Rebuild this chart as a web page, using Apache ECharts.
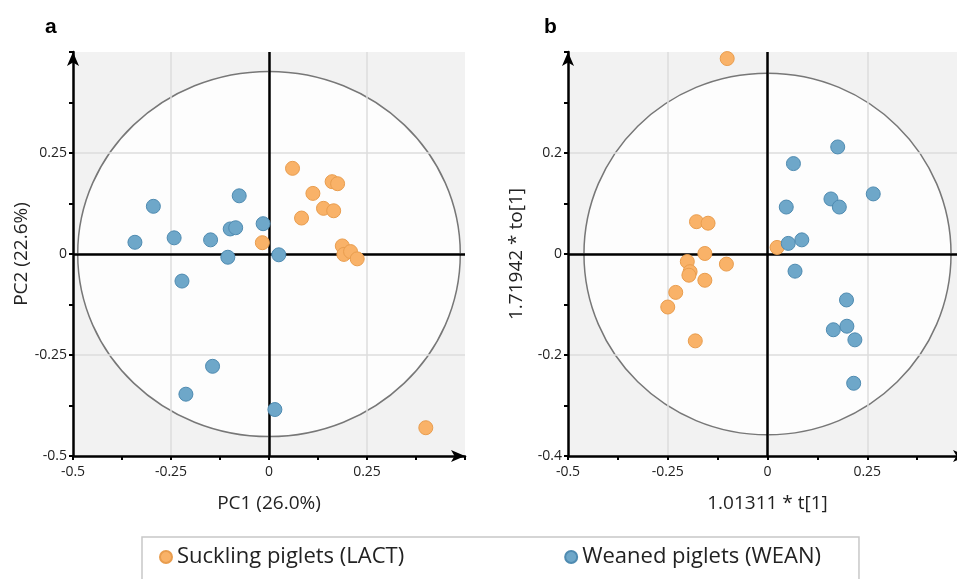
<!DOCTYPE html>
<html>
<head>
<meta charset="utf-8">
<script src="https://cdn.jsdelivr.net/npm/echarts@6/dist/echarts.min.js"></script>
<style>
  html, body { margin: 0; padding: 0; background: #fff; }
  #chart { width: 957px; height: 579px; }
</style>
</head>
<body>
<div id="chart"></div>
<script>
// panel a: PCA scores [PC1, PC2]
var lactA = [
  [0.060, 0.212], [0.112, 0.150], [0.161, 0.179], [0.175, 0.174],
  [0.139, 0.113], [0.165, 0.107], [0.083, 0.089], [-0.017, 0.028],
  [0.187, 0.020], [0.191, -0.001], [0.208, 0.006], [0.225, -0.012],
  [0.400, -0.430]
];
var weanA = [
  [-0.295, 0.118], [-0.076, 0.144], [-0.342, 0.029], [-0.242, 0.040],
  [-0.149, 0.035], [-0.099, 0.062], [-0.085, 0.065], [-0.015, 0.075],
  [-0.105, -0.008], [0.025, -0.002], [-0.222, -0.067], [-0.144, -0.278],
  [-0.212, -0.347], [0.015, -0.385]
];
// panel b: OPLS-DA scores [t[1], to[1]]
var lactB = [
  [-0.101, 0.387], [-0.178, 0.064], [-0.149, 0.061], [-0.157, 0.001],
  [0.024, 0.013], [-0.201, -0.015], [-0.103, -0.020], [-0.194, -0.035],
  [-0.197, -0.042], [-0.157, -0.052], [-0.230, -0.076], [-0.250, -0.105],
  [-0.181, -0.172]
];
var weanB = [
  [0.176, 0.212], [0.065, 0.179], [0.265, 0.119], [0.159, 0.109],
  [0.180, 0.093], [0.047, 0.093], [0.086, 0.028], [0.052, 0.021],
  [0.069, -0.034], [0.198, -0.091], [0.199, -0.143], [0.165, -0.150],
  [0.219, -0.170], [0.216, -0.256]
];
// Hotelling T2 ellipse radii (data units)
var ellipseA = [0.488, 0.452];
var ellipseB = [0.460, 0.358];

var LACT = 'Suckling piglets (LACT)';
var WEAN = 'Weaned piglets (WEAN)';
var FONT = '"Open Sans", "Noto Sans", sans-serif';

function makeX(idx, name) {
  return {
    type: 'value', gridIndex: idx, min: -0.5, max: 0.5, interval: 0.25,
    name: name, nameLocation: 'middle', nameGap: 38,
    nameTextStyle: { fontSize: 19, color: '#222', fontFamily: FONT },
    axisLine: { show: true, onZero: false, symbol: ['none', 'arrow'], symbolSize: [9, 14],
      lineStyle: { color: '#000', width: 2.5 } },
    axisTick: { show: true, length: 4, lineStyle: { color: '#000', width: 2 } },
    minorTick: { show: true, splitNumber: 2, length: 4, lineStyle: { color: '#000', width: 2 } },
    axisLabel: { showMaxLabel: false, fontSize: 14, color: '#222', margin: 9, fontFamily: FONT },
    splitLine: { show: true, showMinLine: false, showMaxLine: false, lineStyle: { color: '#dcdcdc', width: 1.5 } }
  };
}
function makeY(idx, name, lim, step) {
  return {
    type: 'value', gridIndex: idx, min: -lim, max: lim, interval: step,
    name: name, nameLocation: 'middle', nameGap: 42, nameRotate: 90,
    nameTextStyle: { fontSize: 19, color: '#222', fontFamily: FONT },
    axisLine: { show: true, onZero: false, symbol: ['none', 'arrow'], symbolSize: [9, 14],
      lineStyle: { color: '#000', width: 2.5 } },
    axisTick: { show: true, length: 4, lineStyle: { color: '#000', width: 2 } },
    minorTick: { show: true, splitNumber: 2, length: 4, lineStyle: { color: '#000', width: 2 } },
    axisLabel: { showMaxLabel: false, fontSize: 14, color: '#222', margin: 6, fontFamily: FONT },
    splitLine: { show: true, showMinLine: false, showMaxLine: false, lineStyle: { color: '#dcdcdc', width: 1.5 } }
  };
}
function ellipseSeries(idx, radii) {
  return {
    type: 'custom', xAxisIndex: idx, yAxisIndex: idx, z: -1, silent: true, clip: false,
    data: [[0, 0]],
    renderItem: function (params, api) {
      var c = api.coord([api.value(0), api.value(1)]);
      var s = api.size([radii[0], radii[1]]);
      return {
        type: 'ellipse',
        shape: { cx: c[0], cy: c[1], rx: s[0], ry: s[1] },
        style: { fill: '#fdfdfd', stroke: '#777', lineWidth: 1.5 }
      };
    }
  };
}
function zeroLines(idx) {
  return {
    type: 'scatter', xAxisIndex: idx, yAxisIndex: idx, data: [], silent: true,
    markLine: {
      silent: true, symbol: ['none', 'none'], label: { show: false },
      lineStyle: { color: '#000', width: 2.5, type: 'solid' },
      data: [{ xAxis: 0 }, { yAxis: 0 }]
    }
  };
}
function dots(idx, name, data, fill, edge) {
  return {
    type: 'scatter', name: name, xAxisIndex: idx, yAxisIndex: idx, data: data,
    symbolSize: 14, z: 5,
    itemStyle: { color: fill, borderColor: edge, borderWidth: 1, opacity: 1 }
  };
}

var chart = echarts.init(document.getElementById('chart'));
chart.setOption({
  backgroundColor: '#fff',
  animation: false,
  title: [
    { text: 'a', left: 40, top: 12, textStyle: { fontSize: 21, fontWeight: 'bold', color: '#000', fontFamily: 'Liberation Sans, Arial, sans-serif' } },
    { text: 'b', left: 539, top: 12, textStyle: { fontSize: 21, fontWeight: 'bold', color: '#000', fontFamily: 'Liberation Sans, Arial, sans-serif' } }
  ],
  grid: [
    { left: 73, top: 52, width: 392, height: 404, show: true, backgroundColor: '#f2f2f2', borderWidth: 0, z: -2, outerBoundsMode: 'none' },
    { left: 568, top: 52, width: 399, height: 404, show: true, backgroundColor: '#f2f2f2', borderWidth: 0, z: -2, outerBoundsMode: 'none' }
  ],
  xAxis: [makeX(0, 'PC1 (26.0%)'), makeX(1, '1.01311 * t[1]')],
  yAxis: [makeY(0, 'PC2 (22.6%)', 0.5, 0.25), makeY(1, '1.71942 * to[1]', 0.4, 0.2)],
  legend: {
    data: [LACT, WEAN],
    left: 142, top: 537,
    icon: 'circle', itemWidth: 12, itemHeight: 12, itemGap: 160,
    borderColor: '#c8c8c8', borderWidth: 1.5,
    padding: [9, 38, 40, 17],
    textStyle: { fontSize: 22, color: '#222', fontFamily: FONT }
  },
  series: [
    ellipseSeries(0, ellipseA),
    ellipseSeries(1, ellipseB),
    zeroLines(0),
    zeroLines(1),
    dots(0, LACT, lactA, '#f9b268', '#e99d4e'),
    dots(0, WEAN, weanA, '#6ea7c9', '#4f8bb1'),
    dots(1, LACT, lactB, '#f9b268', '#e99d4e'),
    dots(1, WEAN, weanB, '#6ea7c9', '#4f8bb1')
  ]
});
</script>
</body>
</html>
